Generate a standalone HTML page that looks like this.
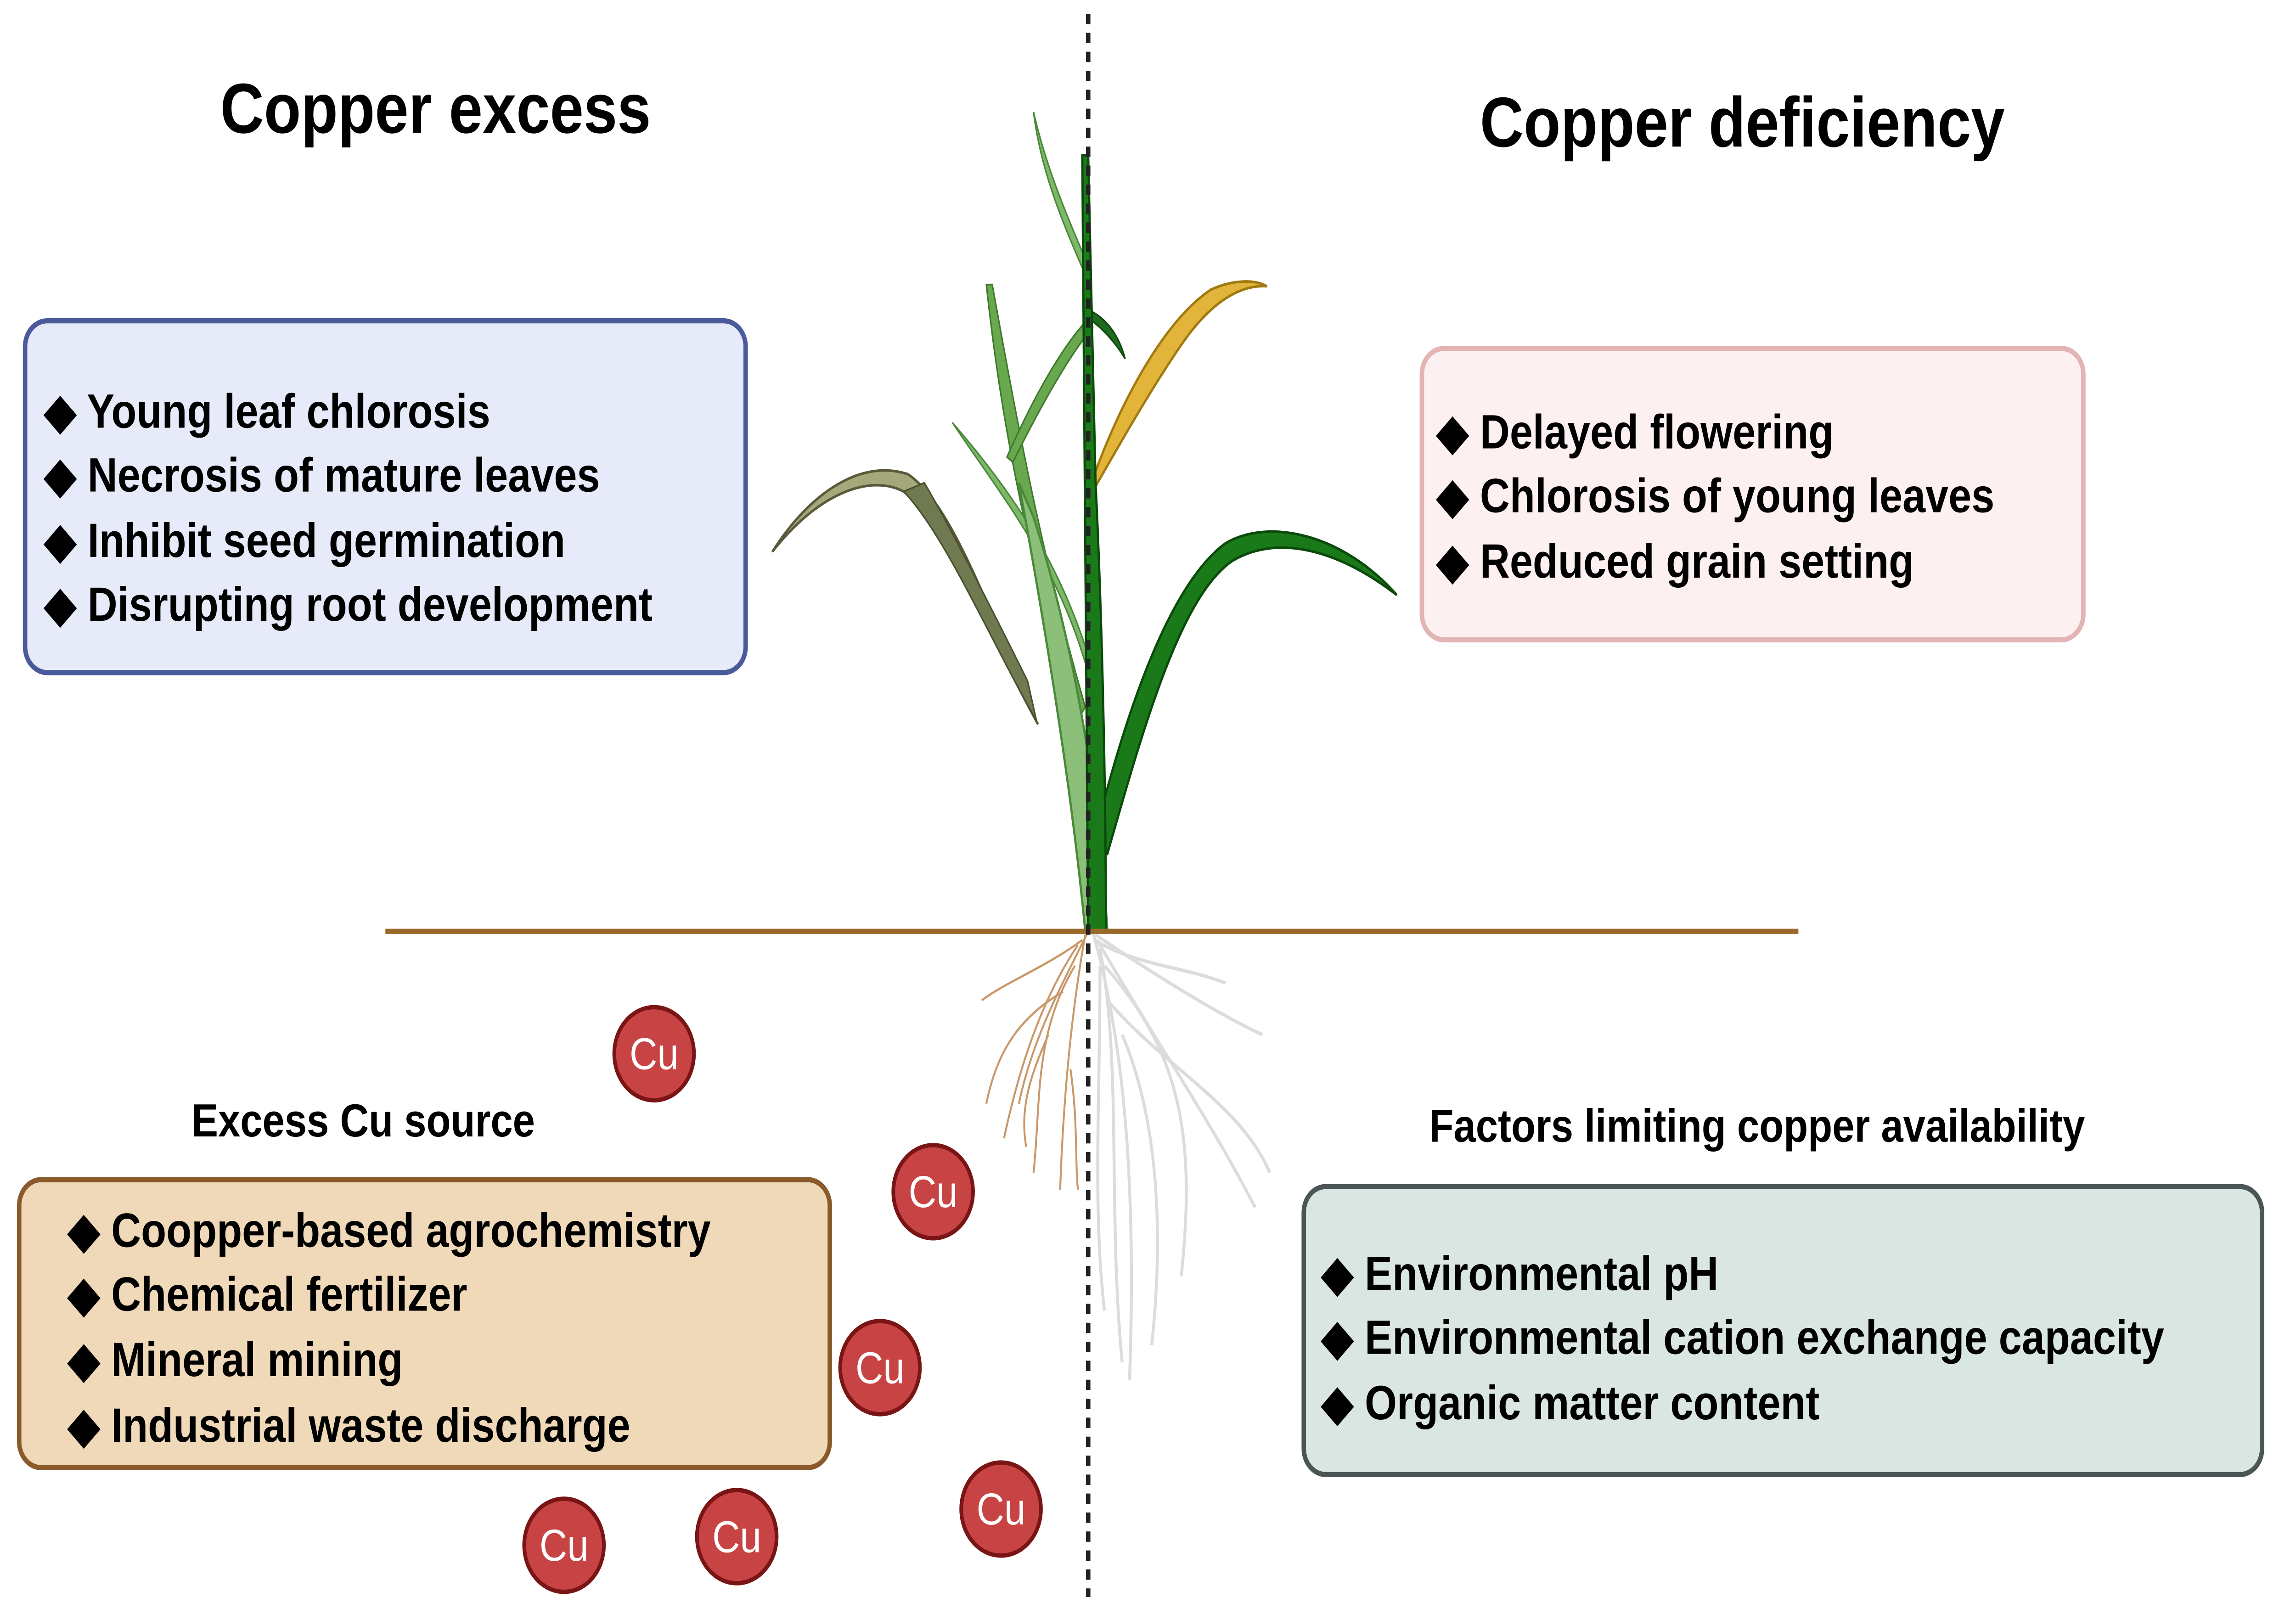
<!DOCTYPE html>
<html><head><meta charset="utf-8"><style>
html,body{margin:0;padding:0;background:#fff;width:100%;height:100%;overflow:hidden;}
svg{display:block;position:absolute;left:0;top:0;width:100vw;height:100vh;}
text{font-family:"Liberation Sans",Arial,sans-serif;font-weight:bold;fill:#000;}
.cu{fill:#fff;font-weight:normal;}
</style></head><body>
<svg viewBox="0 0 1555 926" preserveAspectRatio="none" xmlns="http://www.w3.org/2000/svg">
<rect width="1555" height="926" fill="#fff"/>
<text x="295" y="77" font-size="41" text-anchor="middle">Copper excess</text>
<text x="1180" y="85" font-size="41" text-anchor="middle">Copper deficiency</text>

<rect x="17" y="186" width="488" height="204" rx="15" fill="#e6eaf9" stroke="#4a5a9a" stroke-width="3"/>
<g font-size="28">
<text x="30" y="248">◆ Young leaf chlorosis</text>
<text x="30" y="285">◆ Necrosis of mature leaves</text>
<text x="30" y="323">◆ Inhibit seed germination</text>
<text x="30" y="360">◆ Disrupting root development</text>
</g>

<rect x="963" y="202" width="448" height="169" rx="15" fill="#fdf0f0" stroke="#e3b4b4" stroke-width="3"/>
<g font-size="28">
<text x="973" y="260">◆ Delayed flowering</text>
<text x="973" y="297">◆ Chlorosis of young leaves</text>
<text x="973" y="335">◆ Reduced grain setting</text>
</g>

<g fill="none" stroke="#c9996a" stroke-width="1.3">
<path d="M737 540 C720 570 700 600 690 640"/><path d="M735 542 C725 590 720 640 718 690"/>
<path d="M733 545 C710 560 680 570 665 580"/><path d="M730 548 C705 580 690 620 680 660"/>
<path d="M728 560 C700 600 705 640 700 680"/><path d="M720 575 C690 590 675 610 668 640"/>
<path d="M710 600 C700 620 690 640 695 665"/><path d="M725 620 C730 650 728 670 730 690"/>
</g>
<g fill="none" stroke="#dcdcdc" stroke-width="2">
<path d="M740 540 C760 600 770 680 765 800"/><path d="M742 542 C790 570 830 590 855 600"/>
<path d="M743 545 C780 600 820 650 850 700"/><path d="M745 550 C760 620 750 700 760 790"/>
<path d="M748 560 C800 610 810 660 800 740"/><path d="M750 580 C790 620 840 640 860 680"/>
<path d="M745 560 C745 640 740 700 748 760"/><path d="M760 600 C780 640 790 700 780 780"/>
<path d="M741 545 C770 560 800 560 830 570"/>
</g>

<path d="M700 415 C660 330 640 290 615 275 C580 265 545 290 523 320 C555 285 590 275 612 285 C635 300 665 360 703 420 Z" fill="#a4a97c" stroke="#5a5a3a" stroke-width="1.5"/>
<path d="M612 285 C640 310 670 370 702 418 L696 395 C670 350 640 300 626 280 Z" fill="#707a50" stroke="#4a5030" stroke-width="1"/>
<path d="M668 165 C680 260 700 330 728 420 L735 410 C705 320 690 250 672 165 Z" fill="#6aa84f" stroke="#3e7a2e" stroke-width="1"/>
<path d="M645 245 C680 290 720 330 740 400 L737 380 C715 320 680 280 645 245 Z" fill="#7fb86a" stroke="#4a8a3a" stroke-width="1"/>
<path d="M737 185 C720 200 700 230 682 265 L686 268 C705 235 725 205 740 190 Z" fill="#6aa84f" stroke="#3e7a2e" stroke-width="1"/>
<path d="M700 65 C705 100 720 130 738 165 L735 150 C720 120 708 95 700 65 Z" fill="#7fb86a" stroke="#4a8a3a" stroke-width="1"/>
<path d="M738 180 C750 185 758 195 762 208 C755 198 746 190 738 185 Z" fill="#1f6a1f" stroke="#0f4a0f" stroke-width="1"/>
<path d="M740 278 C760 230 790 185 820 168 C835 162 850 162 858 166 C840 165 820 175 800 200 C780 225 760 255 742 282 Z" fill="#e2b53a" stroke="#a07a10" stroke-width="1.5"/>
<path d="M740 490 C760 420 790 340 830 315 C860 300 910 310 946 345 C905 318 865 310 835 325 C800 345 775 420 750 495 Z" fill="#1a7a1a" stroke="#0a4a0a" stroke-width="1.5"/>
<path d="M690 280 C705 350 725 450 735 540 L750 540 C745 470 730 380 700 300 Z" fill="#8cc07a" stroke="#4a8a3a" stroke-width="1.5"/>
<path d="M733 90 L737 540 L749 540 C749 450 746 350 742 280 L737 90 Z" fill="#1a7a1a" stroke="#0a4a0a" stroke-width="1.5"/>

<line x1="261" y1="540" x2="1218" y2="540" stroke="#9a6a2a" stroke-width="3"/>
<line x1="737" y1="8" x2="737" y2="926" stroke="#222" stroke-width="3" stroke-dasharray="6,5"/>

<text x="246" y="659" font-size="27" text-anchor="middle">Excess Cu source</text>
<rect x="13" y="684" width="549" height="167" rx="15" fill="#efd9b8" stroke="#8b5a2b" stroke-width="3"/>
<g font-size="28">
<text x="46" y="723">◆ Coopper-based agrochemistry</text>
<text x="46" y="760">◆ Chemical fertilizer</text>
<text x="46" y="798">◆ Mineral mining</text>
<text x="46" y="836">◆ Industrial waste discharge</text>
</g>

<text x="1190" y="662" font-size="27" text-anchor="middle">Factors limiting copper availability</text>
<rect x="883" y="688" width="649" height="167" rx="15" fill="#d9e6e2" stroke="#4a5555" stroke-width="3"/>
<g font-size="28">
<text x="895" y="748">◆ Environmental pH</text>
<text x="895" y="785">◆ Environmental cation exchange capacity</text>
<text x="895" y="823">◆ Organic matter content</text>
</g>

<g fill="#c84444" stroke="#7a1515" stroke-width="2.5">
<circle cx="443" cy="611" r="27"/>
<circle cx="632" cy="691" r="27"/>
<circle cx="596" cy="793" r="27"/>
<circle cx="678" cy="875" r="27"/>
<circle cx="499" cy="891" r="27"/>
<circle cx="382" cy="896" r="27"/>
</g>
<g font-size="26" text-anchor="middle">
<text class="cu" x="443" y="620">Cu</text>
<text class="cu" x="632" y="700">Cu</text>
<text class="cu" x="596" y="802">Cu</text>
<text class="cu" x="678" y="884">Cu</text>
<text class="cu" x="499" y="900">Cu</text>
<text class="cu" x="382" y="905">Cu</text>
</g>
</svg>
</body></html>
